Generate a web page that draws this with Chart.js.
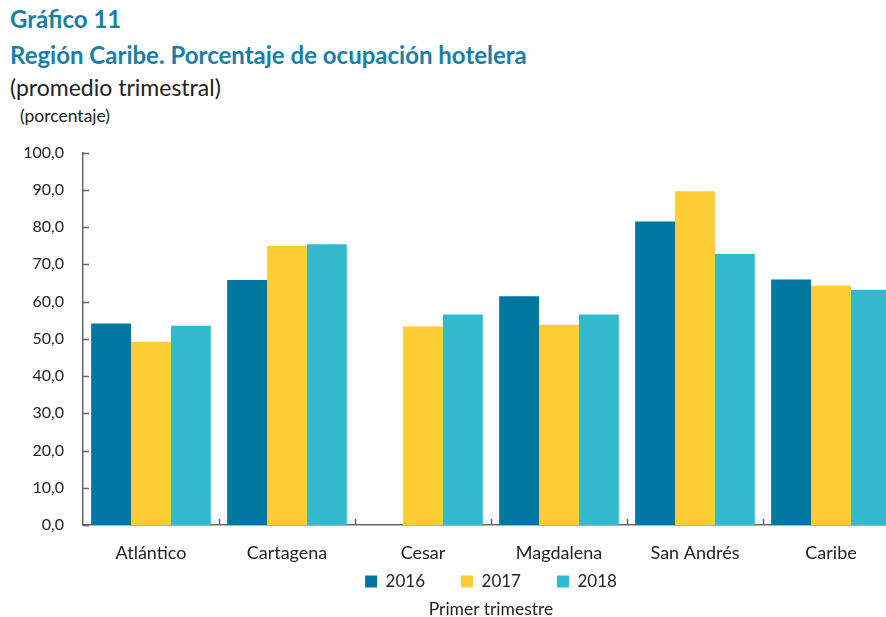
<!DOCTYPE html>
<html>
<head>
<meta charset="utf-8">
<script src="https://cdn.jsdelivr.net/npm/chart.js@4"></script>
<style>
  html, body { margin: 0; padding: 0; background: #fff; overflow: hidden; }
  body { width: 886px; height: 617px; position: relative; font-family: Lato, sans-serif; }
  .t1 { position: absolute; left: 10px; top: 1px; font-size: 24px; font-weight: bold; color: #1a7ea6; line-height: 36px; }
  .t2 { position: absolute; left: 10px; top: 73px; font-size: 23px; color: #222; }
  .t3 { position: absolute; left: 20px; top: 105px; font-size: 17.5px; color: #222; }
  .xt { position: absolute; left: 83px; width: 816px; top: 598px; text-align: center; font-size: 17.5px; color: #222; }
  #wrap { position: absolute; left: 0; top: 132px; width: 900px; height: 468px; }
</style>
</head>
<body>
<div class="t1">Gráfico 11<br>Región Caribe. Porcentaje de ocupación hotelera</div>
<div class="t2">(promedio trimestral)</div>
<div class="t3">(porcentaje)</div>
<div id="wrap"><canvas id="c"></canvas></div>
<div class="xt">Primer trimestre</div>
<script>
// datos
const categorias = ['Atlántico', 'Cartagena', 'Cesar', 'Magdalena', 'San Andrés', 'Caribe'];
const serie2016 = [54.1, 65.8, null, 61.4, 81.5, 65.9];
const serie2017 = [49.2, 74.9, 53.3, 53.8, 89.6, 64.3];
const serie2018 = [53.5, 75.4, 56.5, 56.5, 72.8, 63.2];
const ticksY = [0, 10, 20, 30, 40, 50, 60, 70, 80, 90, 100];

// marcas hacia dentro en ambos ejes
const marcasInternas = {
  id: 'marcasInternas',
  afterLayout(chart) {
    // el eje x se encoge para acercar la leyenda; se amplía su zona de recorte
    const x = chart.scales.x;
    x.bottom = x.top + 50;
  },
  afterDraw(chart) {
    const { ctx, chartArea, scales } = chart;
    ctx.save();
    ctx.strokeStyle = '#666';
    ctx.lineWidth = 1.5;
    ctx.beginPath();
    ticksY.forEach(v => {
      const y = Math.round(scales.y.getPixelForValue(v)) + 0.5;
      ctx.moveTo(chartArea.left, y);
      ctx.lineTo(chartArea.left + 6, y);
    });
    const n = categorias.length;
    const w = (chartArea.right - chartArea.left) / n;
    for (let i = 1; i < n; i++) {
      const x = Math.round(scales.x.getPixelForValue(i) - w / 2) + 0.5;
      ctx.moveTo(x, chartArea.bottom);
      ctx.lineTo(x, chartArea.bottom - 6);
    }
    ctx.stroke();
    ctx.restore();
  }
};

new Chart(document.getElementById('c'), {
  type: 'bar',
  data: {
    labels: categorias,
    datasets: [
      { label: '2016', data: serie2016, backgroundColor: '#0077a0' },
      { label: '2017', data: serie2017, backgroundColor: '#fdcd33' },
      { label: '2018', data: serie2018, backgroundColor: '#33b9ce' }
    ]
  },
  options: {
    responsive: true,
    maintainAspectRatio: false,
    animation: false,
    layout: { padding: { top: 1, right: 1, left: 0, bottom: 0 } },
    datasets: { bar: { categoryPercentage: 0.88, barPercentage: 1.0 } },
    plugins: {
      legend: {
        position: 'bottom',
        fullSize: false,
        labels: {
          boxWidth: 12, boxHeight: 12, padding: 36,
          color: '#222',
          font: { family: 'Lato', size: 17 }
        }
      },
      tooltip: { enabled: false }
    },
    scales: {
      x: {
        afterFit(s) { s.height = 12; },
        grid: { display: false },
        border: { color: '#666', width: 1.5 },
        ticks: { color: '#222', font: { family: 'Lato', size: 18 }, padding: 9 }
      },
      y: {
        min: 0, max: 100,
        afterFit(s) { s.width = 83; },
        afterBuildTicks(s) { s.ticks = ticksY.map(v => ({ value: v })); },
        grid: { display: false },
        border: { color: '#666', width: 1.5 },
        ticks: {
          color: '#222', padding: 11,
          font: { family: 'Lato', size: 16 },
          callback: v => v.toFixed(1).replace('.', ',')
        }
      }
    }
  },
  plugins: [marcasInternas]
});
</script>
</body>
</html>
